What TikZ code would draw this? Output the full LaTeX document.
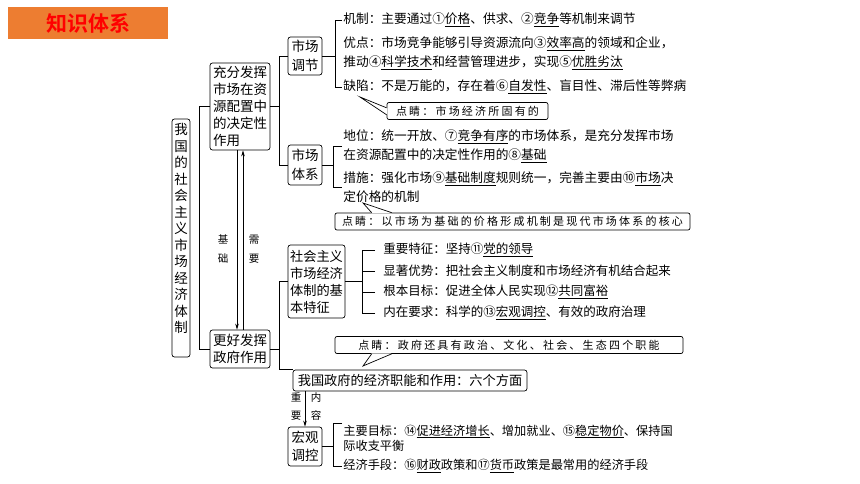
\documentclass[tikz,border=0pt]{standalone}
\usepackage{fontspec}
\setmainfont{Noto Sans CJK SC}[BoldFont={Noto Sans CJK SC Bold}]
\newfontfamily\tipfont{Noto Sans CJK SC}[LetterSpace=20]
\usetikzlibrary{arrows.meta}
\definecolor{titlebg}{HTML}{ED7D31}
\definecolor{titlefg}{HTML}{FF0000}
\newcommand{\ans}[1]{\underline{#1}}

\begin{document}
\begin{tikzpicture}[x=1pt, y=-1pt, line width=0.7pt,
      bx/.style={draw, rounded corners=2.5pt, align=left, inner sep=2pt,
                 font=\fontsize{13.5}{17}\selectfont},
      ln/.style={anchor=west, inner sep=1pt, align=left,
                 font=\fontsize{12.7}{19}\selectfont},
      tip/.style={draw, rounded corners=2pt, fill=white, inner xsep=3pt, inner ysep=1.5pt,
                  minimum height=17, font=\tipfont\fontsize{11}{13}\selectfont},
      lab/.style={align=center, inner sep=0pt, font=\tipfont\fontsize{10.5}{18.5}\selectfont},
      ar/.style={-{Stealth[length=6pt, width=3.5pt]}}
    ]
    \useasboundingbox (0,0) rectangle (860,484);

    \node[fill=titlebg, minimum width=160, minimum height=32, inner sep=0pt, text=titlefg,
          font=\bfseries\fontsize{21}{21}\selectfont] (title) at (88,23) {知识体系};

    % main boxes
    \node[bx, align=center, minimum width=18, minimum height=238, inner sep=1pt,
          font=\fontsize{13.5}{16.5}\selectfont] (sys) at (181,238)
          {我\\国\\的\\社\\会\\主\\义\\市\\场\\经\\济\\体\\制\\[3pt]\mbox{}};
    \node[bx, minimum width=60, minimum height=87] (mkt) at (240,106.5)
          {充分发挥\\市场在资\\源配置中\\的决定性\\作用};
    \node[bx, minimum width=60, minimum height=38] (gov) at (240,349) {更好发挥\\政府作用};

    \node[bx, minimum width=34, minimum height=38, font=\fontsize{13.5}{18.5}\selectfont] (adj) at (305,56) {市场\\调节};
    \node[bx, minimum width=34, minimum height=40, font=\fontsize{13.5}{18.5}\selectfont] (sysm) at (305,165) {市场\\体系};
    \node[bx, minimum width=57, minimum height=73, font=\fontsize{13.2}{17}\selectfont] (feat) at (316.5,281.5)
          {社会主义\\市场经济\\体制的基\\本特征};
    \node[bx, minimum width=234, minimum height=21, font=\fontsize{13.2}{16}\selectfont] (jobs) at (410,380.5)
          {我国政府的经济职能和作用：六个方面};
    \node[bx, minimum width=34, minimum height=39, font=\fontsize{13.5}{18.5}\selectfont] (macro) at (305,446.5) {宏观\\调控};

    % market regulation
    \node[ln] (m1) at (342,20) {机制：主要通过①\ans{价格}、供求、②\ans{竞争}等机制来调节};
    \node[ln] (m2) at (342,53.5) {优点：市场竞争能够引导资源流向③\ans{效率高}的领域和企业，\\推动④\ans{科学技术}和经营管理进步，实现⑤\ans{优胜劣汰}};
    \node[ln] (m3) at (342,87) {缺陷：不是万能的，存在着⑥\ans{自发性}、盲目性、滞后性等弊病};

    % market system
    \node[ln] (s1) at (342,146.5) {地位：统一开放、⑦\ans{竞争有序}的市场体系，是充分发挥市场\\在资源配置中的决定性作用的⑧\ans{基础}};
    \node[ln] (s2) at (342,187) {措施：强化市场⑨\ans{基础制度}规则统一，完善主要由⑩\ans{市场}决\\定价格的机制};

    % basic features
    \node[ln, font=\fontsize{12.5}{19}\selectfont] (f1) at (382,250) {重要特征：坚持⑪\ans{党的领导}};
    \node[ln, font=\fontsize{12.5}{19}\selectfont] (f2) at (382,271) {显著优势：把社会主义制度和市场经济有机结合起来};
    \node[ln, font=\fontsize{12.5}{19}\selectfont] (f3) at (382,292) {根本目标：促进全体人民实现⑫\ans{共同富裕}};
    \node[ln, font=\fontsize{12.5}{19}\selectfont] (f4) at (382,313) {内在要求：科学的⑬\ans{宏观调控}、有效的政府治理};

    % macro control
    \node[ln, font=\fontsize{12.2}{15}\selectfont] (h1) at (342,438)
          {主要目标：⑭\ans{促进经济增长}、增加就业、⑮\ans{稳定物价}、保持国\\际收支平衡};
    \node[ln, font=\fontsize{12.2}{15}\selectfont] (h2) at (342,466)
          {经济手段：⑯\ans{财政}政策和⑰\ans{货币}政策是最常用的经济手段};

    % callouts
    \node[tip, minimum width=161] (cb1) at (467.5,111) {点睛：市场经济所固有的};
    \node[tip, minimum width=355] (cb2) at (512.5,221.5) {点睛：以市场为基础的价格形成机制是现代市场体系的核心};
    \node[tip, minimum width=348] (cb3) at (509,345) {点睛：政府还具有政治、文化、社会、生态四个职能};
    \coordinate (p1) at (360,97);
    \coordinate (p2) at (363,203);
    \coordinate (p3) at (363,366);

    \fill[white] ([xshift=0.6pt,yshift=5pt]cb1.south west) -- (p1) -- ([xshift=0.6pt,yshift=12pt]cb1.south west) -- cycle;
    \draw ([yshift=5pt]cb1.south west) -- (p1) -- ([yshift=12pt]cb1.south west);
    \fill[white] ([xshift=37pt,yshift=-0.6pt]cb2.north west) -- (p2) -- ([xshift=57pt,yshift=-0.6pt]cb2.north west) -- cycle;
    \draw ([xshift=37pt]cb2.north west) -- (p2) -- ([xshift=57pt]cb2.north west);
    \fill[white] ([xshift=37pt,yshift=0.6pt]cb3.south west) -- (p3) -- ([xshift=57pt,yshift=0.6pt]cb3.south west) -- cycle;
    \draw ([xshift=37pt]cb3.south west) -- (p3) -- ([xshift=57pt]cb3.south west);

    % connectors
    \draw (mkt.west) -- ++(-10,0) |- (gov.west);
    \draw (mkt.east) -- ++(10,0);
    \draw (adj.west) -- ++(-8,0) |- (sysm.west);
    \draw (gov.east) -- ++(10,0);
    \draw (feat.west) -- ++(-8,0) |- (jobs.north west);

    \draw (adj.east) -- ++(13,0);
    \draw (m1.west) -- ++(-7,0) |- (m3.west);
    \draw (sysm.east) -- ++(11,0);
    \draw (s1.west) -- ++(-9,0) |- (s2.west);
    \draw (macro.east) -- ++(11,0);
    \draw (h1.north west) -- ++(-9,0) |- (h2.west);

    \draw (feat.east) -- ++(17,0);
    \draw ([xshift=-20pt]f1.west) -- ([xshift=-20pt]f4.west);
    \foreach \n in {f1,f2,f3,f4}
      \draw ([xshift=-7pt]\n.west) -- ++(-13,0);

    \draw[ar] ([xshift=-3pt]mkt.south) -- ([xshift=-3pt]gov.north);
    \draw[ar] ([xshift=3pt]gov.north) -- ([xshift=3pt]mkt.south);
    \node[lab] (basis) at (223,249) {基\\础};
    \node[lab] (need) at (254,249) {需\\要};

    \draw[ar] (macro.north |- jobs.south) -- (macro.north);
    \node[lab] (key) at (296,406.5) {重\\要};
    \node[lab] (part) at (316,406.5) {内\\容};
  \end{tikzpicture}
\end{document}
